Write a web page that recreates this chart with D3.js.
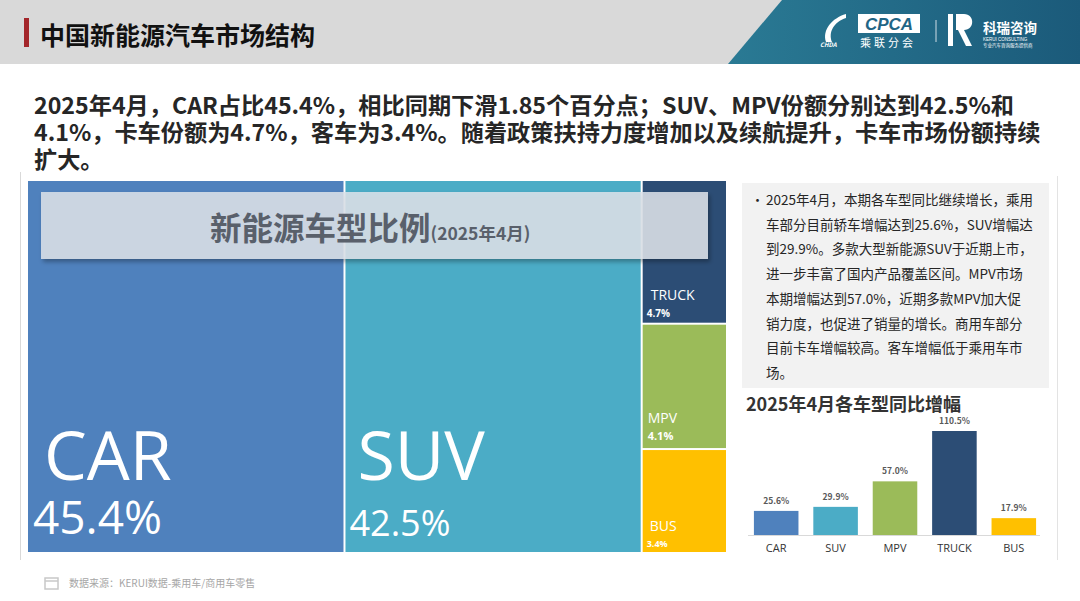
<!DOCTYPE html>
<html>
<head>
<meta charset="utf-8">
<script src="https://cdn.jsdelivr.net/npm/d3@7"></script>
<style>
  html, body { margin: 0; padding: 0; background: #fff; }
  svg { display: block; }
  text { font-family: "Noto Sans CJK SC", "Noto Sans", sans-serif; }
</style>
</head>
<body>
<div id="chart"></div>
<script>
// treemap data (share of NEV sales, April 2025)
const types = ["CAR", "SUV", "TRUCK", "MPV", "BUS"];
const shares = [45.4, 42.5, 4.7, 4.1, 3.4];
// year-on-year growth by type
const growthTypes = ["CAR", "SUV", "MPV", "TRUCK", "BUS"];
const growth = [25.6, 29.9, 57.0, 110.5, 17.9];

const palette = {
  CAR: "#4f81bd", SUV: "#4bacc6", TRUCK: "#2c4d75", MPV: "#9bbb59", BUS: "#ffc000"
};

const headline = [
  "2025年4月，CAR占比45.4%，相比同期下滑1.85个百分点；SUV、MPV份额分别达到42.5%和",
  "4.1%，卡车份额为4.7%，客车为3.4%。随着政策扶持力度增加以及续航提升，卡车市场份额持续",
  "扩大。"
];
const notes = [
  "2025年4月，本期各车型同比继续增长，乘用",
  "车部分目前轿车增幅达到25.6%，SUV增幅达",
  "到29.9%。多款大型新能源SUV于近期上市，",
  "进一步丰富了国内产品覆盖区间。MPV市场",
  "本期增幅达到57.0%，近期多款MPV加大促",
  "销力度，也促进了销量的增长。商用车部分",
  "目前卡车增幅较高。客车增幅低于乘用车市",
  "场。"
];

const width = 1080, height = 601;
const svg = d3.select("#chart").append("svg")
  .attr("width", width).attr("height", height);

const defs = svg.append("defs");
const grad = defs.append("linearGradient").attr("id", "teal")
  .attr("x1", "0%").attr("x2", "100%").attr("y1", "0%").attr("y2", "0%");
grad.append("stop").attr("offset", "0%").attr("stop-color", "#2a7a94");
grad.append("stop").attr("offset", "100%").attr("stop-color", "#1b5a7a");
const shadow = defs.append("filter").attr("id", "shadow")
  .attr("x", "-5%").attr("y", "-20%").attr("width", "110%").attr("height", "150%");
shadow.append("feDropShadow").attr("dx", 2).attr("dy", 3).attr("stdDeviation", 2)
  .attr("flood-color", "#000").attr("flood-opacity", 0.35);

// ---- header band
svg.append("rect").attr("width", width).attr("height", 64).attr("fill", "#d9d9d9");
svg.append("path").attr("d", "M782,0 L1080,0 L1080,64 L728,64 Z").attr("fill", "url(#teal)");
svg.append("rect").attr("x", 24).attr("y", 18).attr("width", 5).attr("height", 29).attr("fill", "#a3262a");
svg.append("text").attr("x", 40).attr("y", 45)
  .attr("font-size", "25px").attr("font-weight", 700).attr("fill", "#111")
  .text("中国新能源汽车市场结构");

// logos (approximate)
const logo = svg.append("g").attr("fill", "#fff");
logo.append("path")
  .attr("d", "M846,14 C832,18 822,30 826,42 L832,42 C828,32 834,22 846,18 Z")
  .attr("fill", "#fff");
logo.append("text").attr("x", 820).attr("y", 47).attr("font-size", "6px")
  .attr("font-style", "italic").attr("font-weight", 700).text("CHDA");
logo.append("rect").attr("x", 858).attr("y", 14).attr("width", 62).attr("height", 19)
  .attr("fill", "#fff");
logo.append("text").attr("x", 889).attr("y", 30).attr("text-anchor", "middle")
  .attr("font-size", "17px").attr("font-style", "italic").attr("font-weight", 700)
  .attr("fill", "#1f6585").style("font-family", "Liberation Sans, sans-serif").text("CPCA");
logo.append("text").attr("x", 860).attr("y", 47).attr("font-size", "11px")
  .attr("letter-spacing", "3px").text("乘联分会");
svg.append("line").attr("x1", 936).attr("x2", 936).attr("y1", 20).attr("y2", 42)
  .attr("stroke", "#cfdde5").attr("stroke-width", 1);
logo.append("rect").attr("x", 948).attr("y", 14).attr("width", 5).attr("height", 32);
logo.append("path").attr("d", "M956,14 L964,14 C975,14 975,30 964,30 L972,46 L966,46 L958,30 L956,30 Z");
logo.append("text").attr("x", 983).attr("y", 33).attr("font-size", "13.5px")
  .attr("font-weight", 700).text("科瑞咨询");
logo.append("text").attr("x", 983).attr("y", 41).attr("font-size", "4.5px")
  .style("font-family", "Liberation Sans, sans-serif").text("KERUI CONSULTING");
logo.append("text").attr("x", 983).attr("y", 47).attr("font-size", "4.5px")
  .text("专业汽车咨询服务提供商");

// ---- headline
svg.append("g").selectAll("text").data(headline).join("text")
  .attr("x", 34).attr("y", (d, i) => 114 + i * 27)
  .attr("font-size", "23.2px").attr("font-weight", 700).attr("fill", "#262626")
  .text(d => d);

// thin frame lines
svg.append("line").attr("x1", 20.5).attr("x2", 20.5).attr("y1", 172).attr("y2", 560)
  .attr("stroke", "#d9d9d9");
svg.append("line").attr("x1", 1057.5).attr("x2", 1057.5).attr("y1", 176).attr("y2", 560)
  .attr("stroke", "#e3e3e3");

// ---- treemap
const tm = { x: 28, y: 181, w: 698, h: 371 };
const root = d3.hierarchy({ children: types.map((t, i) => ({ name: t, value: shares[i] })) })
  .sum(d => d.value || 0);
d3.treemap().tile(d3.treemapSquarify).size([tm.w, tm.h]).paddingInner(2)(root);

const cells = svg.append("g").attr("transform", `translate(${tm.x},${tm.y})`)
  .selectAll("g").data(root.leaves()).join("g")
  .attr("transform", d => `translate(${d.x0},${d.y0})`);
cells.append("rect")
  .attr("width", d => d.x1 - d.x0).attr("height", d => d.y1 - d.y0)
  .attr("fill", d => palette[d.data.name]);

const labelStyle = {
  CAR:   { nx: 16, ny: -72, ns: 68, px: 5,  py: -18, ps: 46, pw: 400 },
  SUV:   { nx: 12, ny: -72, ns: 68, px: 4,  py: -16, ps: 36, pw: 400 },
  TRUCK: { nx: 8,  ny: -23, ns: 14, px: 4,  py: -6,  ps: 10, pw: 700 },
  MPV:   { nx: 5,  ny: -25, ns: 14, px: 5,  py: -8,  ps: 11, pw: 700 },
  BUS:   { nx: 7,  ny: -21, ns: 14, px: 4,  py: -5,  ps: 9,  pw: 700 }
};
cells.append("text")
  .attr("x", d => labelStyle[d.data.name].nx)
  .attr("y", d => d.y1 - d.y0 + labelStyle[d.data.name].ny)
  .attr("font-size", d => labelStyle[d.data.name].ns + "px")
  .attr("fill", "#fff")
  .style("font-family", "'Open Sans', 'Noto Sans', sans-serif")
  .text(d => d.data.name);
cells.append("text")
  .attr("x", d => labelStyle[d.data.name].px)
  .attr("y", d => d.y1 - d.y0 + labelStyle[d.data.name].py)
  .attr("font-size", d => labelStyle[d.data.name].ps + "px")
  .attr("font-weight", d => labelStyle[d.data.name].pw)
  .attr("fill", "#fff")
  .style("font-family", "'Open Sans', 'Noto Sans', sans-serif")
  .text(d => d3.format(".1f")(d.data.value) + "%");

// overlay title box
svg.append("rect").attr("x", 41).attr("y", 192).attr("width", 667).attr("height", 67)
  .attr("fill", "#dde3ea").attr("fill-opacity", 0.86).attr("filter", "url(#shadow)");
const ttl = svg.append("text").attr("x", 210).attr("y", 240).attr("fill", "#59606b")
  .attr("font-weight", 700);
ttl.append("tspan").attr("font-size", "31.5px").text("新能源车型比例");
ttl.append("tspan").attr("font-size", "17.5px").text("(2025年4月)");

// ---- notes box
svg.append("rect").attr("x", 742).attr("y", 183).attr("width", 307).attr("height", 205)
  .attr("fill", "#f2f2f2");
svg.append("text").attr("x", 751).attr("y", 205).attr("font-size", "13px")
  .attr("fill", "#262626").text("•");
svg.append("g").selectAll("text").data(notes).join("text")
  .attr("x", 766).attr("y", (d, i) => 205 + i * 24.7)
  .attr("font-size", "13.5px").attr("fill", "#262626")
  .text(d => d);

// ---- growth bar chart
svg.append("text").attr("x", 746).attr("y", 411)
  .attr("font-size", "18px").attr("font-weight", 700).attr("fill", "#333")
  .text("2025年4月各车型同比增幅");

const x = d3.scaleBand().domain(growthTypes).range([745, 1045])
  .paddingInner(0.25).paddingOuter(0.15);
const y = d3.scaleLinear().domain([0, 110.5]).range([535, 431]);
const bars = svg.append("g");
bars.selectAll("rect").data(growthTypes).join("rect")
  .attr("x", d => x(d)).attr("width", x.bandwidth())
  .attr("y", (d, i) => y(growth[i])).attr("height", (d, i) => y(0) - y(growth[i]))
  .attr("fill", d => palette[d]);
bars.selectAll("text.val").data(growthTypes).join("text").attr("class", "val")
  .attr("x", d => x(d) + x.bandwidth() / 2)
  .attr("y", (d, i) => y(growth[i]) - 7)
  .attr("text-anchor", "middle").attr("font-size", "8.5px").attr("font-weight", 700)
  .attr("fill", "#595959")
  .text((d, i) => d3.format(".1f")(growth[i]) + "%");

const xAxis = svg.append("g").attr("transform", `translate(0,${y(0)})`)
  .call(d3.axisBottom(x).tickSize(0).tickPadding(9));
xAxis.select(".domain").attr("stroke", "#d9d9d9").attr("d", "M748,0.5H1040");
xAxis.selectAll("text").attr("font-size", "11px").attr("fill", "#333")
  .style("font-family", "'Open Sans', 'Noto Sans', sans-serif");

// ---- footer
const icon = svg.append("g").attr("fill", "none").attr("stroke", "#c8c8c8").attr("stroke-width", 1.5);
icon.append("rect").attr("x", 45).attr("y", 578).attr("width", 13).attr("height", 11);
icon.append("line").attr("x1", 45).attr("x2", 58).attr("y1", 581).attr("y2", 581);
svg.append("text").attr("x", 69).attr("y", 587)
  .attr("font-size", "10px").attr("fill", "#a6a6a6")
  .text("数据来源：KERUI数据-乘用车/商用车零售");
</script>
</body>
</html>
